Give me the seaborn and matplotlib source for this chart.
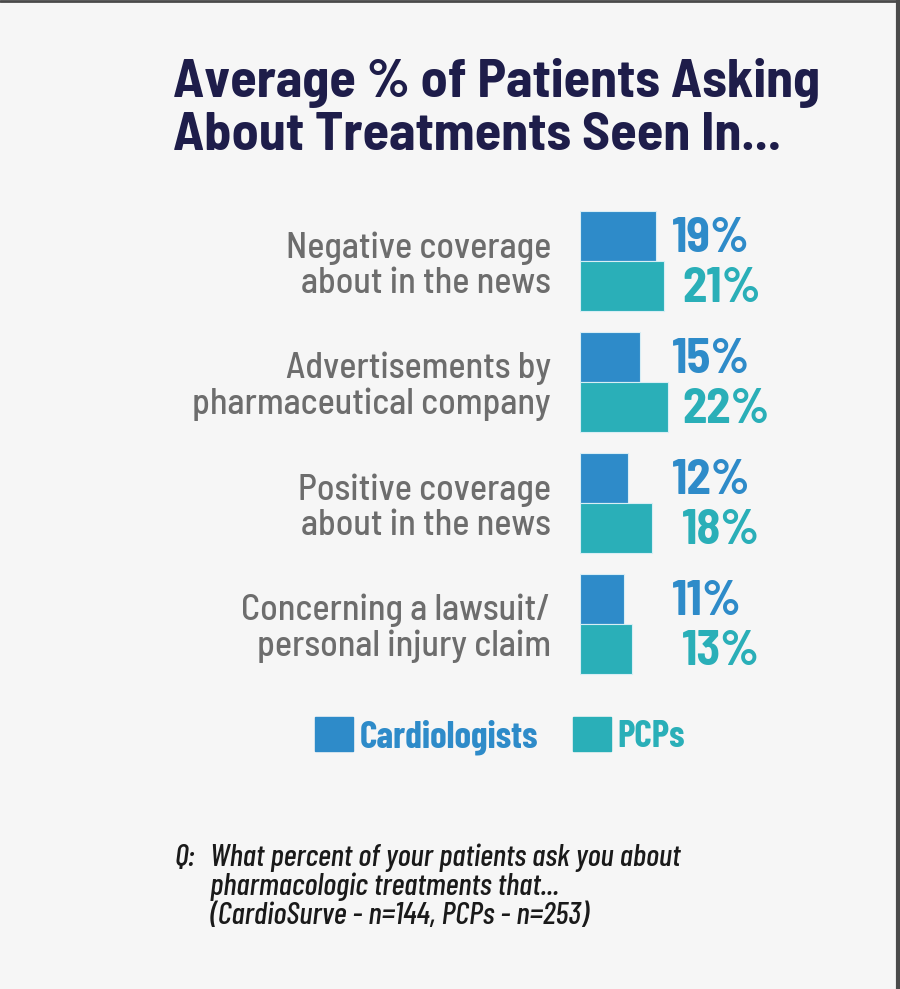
import warnings
warnings.filterwarnings("ignore")

import pandas as pd
import matplotlib.pyplot as plt
import seaborn as sns
from matplotlib.patches import Patch

# Data
categories = [
    "Negative coverage\nabout in the news",
    "Advertisements by\npharmaceutical company",
    "Positive coverage\nabout in the news",
    "Concerning a lawsuit/\npersonal injury claim",
]
cardiologists = [19, 15, 12, 11]
pcps = [21, 22, 18, 13]
groups = ["Cardiologists", "PCPs"]
title_lines = ["Average % of Patients Asking", "About Treatments Seen In..."]
note_lines = ["What percent of your patients ask you about",
              "pharmacologic treatments that...",
              "(CardioSurve - n=144, PCPs - n=253)"]

colors = {"Cardiologists": "#2e8bc9", "PCPs": "#2aafb8"}
bg = "#f6f6f6"
COND = ["Barlow Condensed", "Roboto Condensed", "DejaVu Sans"]
SEMI = ["Barlow Semi Condensed", "Roboto Condensed", "DejaVu Sans"]

df = pd.DataFrame({
    "category": categories * 2,
    "value": cardiologists + pcps,
    "group": ["Cardiologists"] * 4 + ["PCPs"] * 4,
})

sns.set_theme(style="white")
plt.rcParams["font.family"] = COND

fig = plt.figure(figsize=(9, 9.89), dpi=100, facecolor=bg)
ax = fig.add_axes([0.6444, 0.3079, 0.3111, 0.4894])
ax.set_facecolor(bg)

sns.barplot(data=df, x="value", y="category", hue="group", orient="h",
            palette=colors, width=0.83, legend=False, ax=ax,
            edgecolor="#d8eef5", linewidth=0.8, saturation=1)

ax.set_xlim(0, 70)
ax.set_ylim(3.5, -0.5)
ax.set_xlabel("")
ax.set_ylabel("")
ax.set_xticks([])
for s in ax.spines.values():
    s.set_visible(False)
ax.tick_params(axis="y", length=0, pad=21)
for lbl in ax.get_yticklabels():
    lbl.set_fontsize(26)
    lbl.set_fontfamily(SEMI)
    lbl.set_fontweight(500)
    lbl.set_color("#6d6d6d")
    lbl.set_horizontalalignment("right")
    lbl.set_multialignment("right")
    lbl.set_linespacing(1.08)

# value labels
for i in range(len(categories)):
    ax.text(23, i - 0.2075 + 0.135, f"{cardiologists[i]}%", color=colors["Cardiologists"],
            fontsize=35, fontweight="bold", family=SEMI, va="baseline", ha="left")
    ax.text(25.5, i + 0.2075 + 0.135, f"{pcps[i]}%", color=colors["PCPs"],
            fontsize=35, fontweight="bold", family=SEMI, va="baseline", ha="left")

# title
for line, yb in zip(title_lines, [0.9019, 0.8483]):
    fig.text(0.192, yb, line, fontsize=39, fontweight="bold", family=SEMI,
             color="#1e1d4a", ha="left", va="baseline")

# legend
handles = [Patch(facecolor=colors[g], edgecolor=colors[g]) for g in groups]
leg = fig.legend(handles, groups, loc="center left", bbox_to_anchor=(0.35, 0.2558),
                 ncol=2, frameon=False, handlelength=1.02, handleheight=1.02,
                 handletextpad=0.17, columnspacing=0.92, borderaxespad=0, borderpad=0,
                 prop={"family": COND, "size": 27, "weight": "bold"})
for t, g in zip(leg.get_texts(), groups):
    t.set_color(colors[g])

# footnote
fig.text(0.194, 1 - 866 / 989, "Q:", fontsize=22.5, style="italic", fontweight=500,
         color="#1a1a1a", ha="left", va="baseline")
for line, yb in zip(note_lines, [866, 895, 924]):
    fig.text(0.233, 1 - yb / 989, line, fontsize=22.5, style="italic", fontweight=500,
             color="#1a1a1a", ha="left", va="baseline")

# frame lines on top and right
fig.add_artist(plt.Line2D([0, 1], [0.999, 0.999], color="#4a4a4a", linewidth=2))
fig.add_artist(plt.Line2D([0.998, 0.998], [0, 1], color="#4a4a4a", linewidth=3))

plt.savefig("out.png", dpi=100, facecolor=bg)
plt.close()
